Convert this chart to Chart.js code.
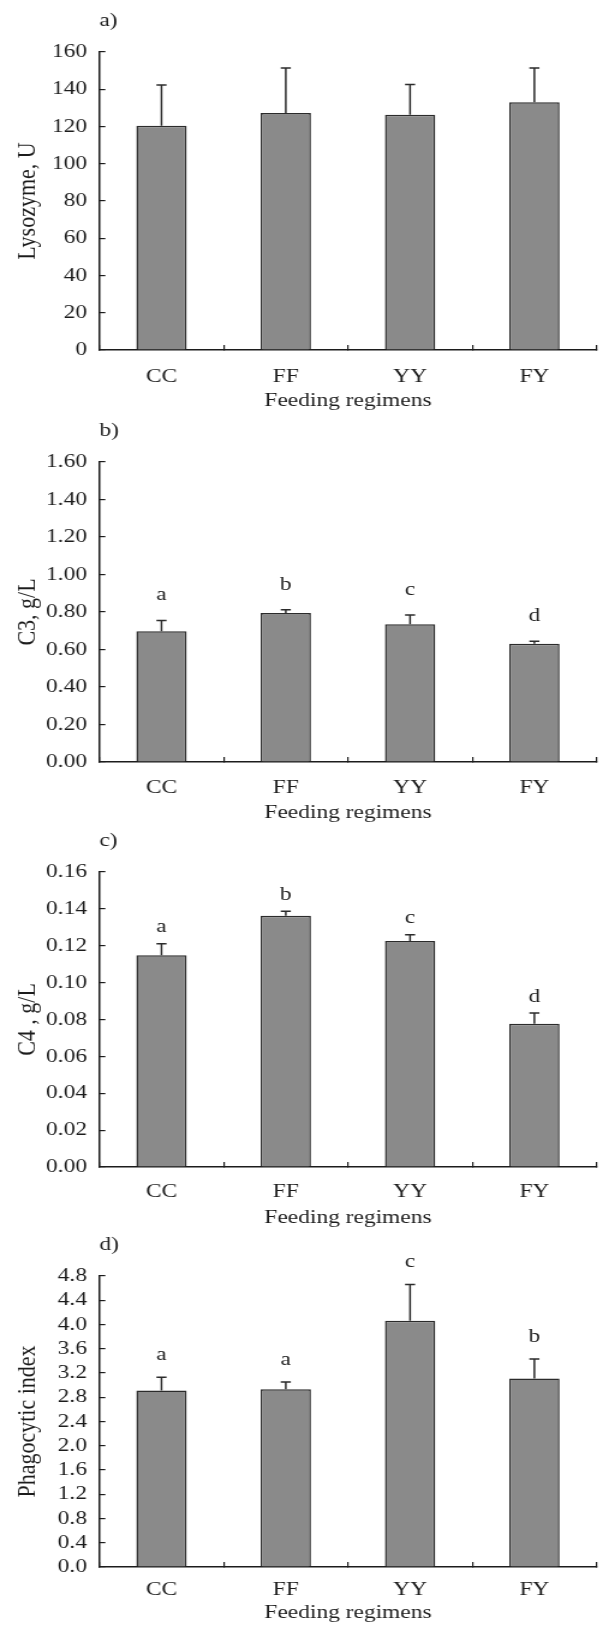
<!DOCTYPE html>
<html>
<head>
<meta charset="utf-8">
<script src="https://cdn.jsdelivr.net/npm/chart.js@4/dist/chart.umd.min.js"></script>
<style>
  body { margin: 0; background: #fff; }
  #wrap { position: relative; width: 603px; height: 1631px; overflow: hidden; }
  #wrap canvas { position: absolute; left: 0; }
</style>
</head>
<body>
<div id="wrap"></div>
<script>
// Feeding regimens on the x axis, shared by all four panels
const regimens = ['CC', 'FF', 'YY', 'FY'];

// a) lysozyme
const lysozyme = [120.4, 127.2, 126.3, 133.0];
const lysozymeSd = [21.9, 24.2, 16.2, 18.4];
const lysozymeTicks = ['0', '20', '40', '60', '80', '100', '120', '140', '160'];

// b) complement C3
const c3 = [0.698, 0.795, 0.735, 0.631];
const c3Sd = [0.057, 0.017, 0.049, 0.013];
const c3Letters = ['a', 'b', 'c', 'd'];
const c3Ticks = ['0.00', '0.20', '0.40', '0.60', '0.80', '1.00', '1.20', '1.40', '1.60'];

// c) complement C4
const c4 = [0.1148, 0.1363, 0.1226, 0.0777];
const c4Sd = [0.0063, 0.0024, 0.0034, 0.0058];
const c4Letters = ['a', 'b', 'c', 'd'];
const c4Ticks = ['0.00', '0.02', '0.04', '0.06', '0.08', '0.10', '0.12', '0.14', '0.16'];

// d) phagocytic index
const phagocytic = [2.91, 2.93, 4.06, 3.11];
const phagocyticSd = [0.22, 0.12, 0.60, 0.32];
const phagocyticLetters = ['a', 'a', 'c', 'b'];
const phagocyticTicks = ['0.0', '0.4', '0.8', '1.2', '1.6', '2.0', '2.4', '2.8', '3.2', '3.6', '4.0', '4.4', '4.8'];

const ink = '#1c1c1c';
const serif = "'Liberation Serif', 'Times New Roman', serif";
const textSize = 19.5;

// canvases are drawn narrower and widened by CSS (wide serif lettering)
const LOGICAL_W = 502;

const panels = [
  { tag: 'a)', yTitle: 'Lysozyme, U', values: lysozyme, sd: lysozymeSd, letters: null,
    ticks: lysozymeTicks, step: 20, top: 0, height: 413, xHeight: 63, labelPad: 20.0, gap: 0 },
  { tag: 'b)', yTitle: 'C3, g/L', values: c3, sd: c3Sd, letters: c3Letters,
    ticks: c3Ticks, step: 0.2, top: 410, height: 415, xHeight: 63, labelPad: 19.6, gap: 20 },
  { tag: 'c)', yTitle: 'C4 , g/L', values: c4, sd: c4Sd, letters: c4Letters,
    ticks: c4Ticks, step: 0.02, top: 820, height: 410, xHeight: 63, labelPad: 18.3, gap: 11.5 },
  { tag: 'd)', yTitle: 'Phagocytic index', values: phagocytic, sd: phagocyticSd, letters: phagocyticLetters,
    ticks: phagocyticTicks, step: 0.4, top: 1224, height: 401, xHeight: 58, labelPad: 16.6, gap: 17.5 }
];

// error bars (upper whisker only), significance letters and panel tag
const annotate = {
  id: 'annotate',
  afterDatasetsDraw(chart, args, opts) {
    const { ctx, chartArea } = chart;
    const xs = chart.scales.x;
    const ys = chart.scales.y;
    ctx.save();
    ctx.strokeStyle = '#2b2b2b';
    ctx.lineWidth = 1.5;
    ctx.font = textSize + 'px ' + serif;
    opts.values.forEach((v, i) => {
      const x = xs.getPixelForValue(i);
      const yTop = ys.getPixelForValue(v + opts.sd[i]);
      const yBar = ys.getPixelForValue(v);
      ctx.beginPath();
      ctx.moveTo(x, yBar);
      ctx.lineTo(x, yTop);
      ctx.moveTo(x - 4.2, yTop);
      ctx.lineTo(x + 4.2, yTop);
      ctx.stroke();
      if (opts.letters) {
        ctx.fillStyle = ink;
        ctx.textAlign = 'center';
        ctx.textBaseline = 'alphabetic';
        ctx.fillText(opts.letters[i], x, yTop - opts.gap);
      }
    });
    ctx.fillStyle = ink;
    ctx.textAlign = 'left';
    ctx.textBaseline = 'middle';
    ctx.fillText(opts.tag, chartArea.left, chartArea.top - 31);
    ctx.restore();
  }
};

const wrap = document.getElementById('wrap');

panels.forEach(p => {
  const canvas = document.createElement('canvas');
  canvas.width = LOGICAL_W;
  canvas.height = p.height;
  canvas.style.top = p.top + 'px';
  canvas.style.width = '603px';
  canvas.style.height = p.height + 'px';
  wrap.appendChild(canvas);

  const maxVal = p.step * (p.ticks.length - 1);

  new Chart(canvas.getContext('2d'), {
    type: 'bar',
    data: {
      labels: regimens,
      datasets: [{
        data: p.values,
        backgroundColor: '#8a8a8a',
        borderColor: '#2b2b2b',
        borderWidth: 1.5,
        borderSkipped: 'bottom',
        barPercentage: 0.405,
        categoryPercentage: 1
      }]
    },
    options: {
      responsive: false,
      animation: false,
      devicePixelRatio: 1,
      layout: { padding: { top: 52, left: 0, right: 5.4, bottom: 0 } },
      plugins: {
        legend: { display: false },
        tooltip: { enabled: false },
        annotate: { values: p.values, sd: p.sd, letters: p.letters, gap: p.gap, tag: p.tag }
      },
      scales: {
        x: {
          grid: { drawOnChartArea: false, drawTicks: true, tickLength: -5, color: ink, lineWidth: 1.2, offset: true },
          border: { display: true, color: ink, width: 1.5 },
          ticks: { color: ink, font: { family: serif, size: textSize }, padding: p.labelPad, maxRotation: 0 },
          title: { display: true, text: 'Feeding regimens', color: ink, font: { family: serif, size: textSize }, padding: 0 },
          afterFit: s => { s.height = p.xHeight; }
        },
        y: {
          min: 0,
          max: maxVal,
          grid: { drawOnChartArea: false, drawTicks: true, tickLength: -5, color: ink, lineWidth: 1.2 },
          border: { display: true, color: ink, width: 1.5 },
          ticks: {
            stepSize: p.step,
            autoSkip: false,
            color: ink,
            font: { family: serif, size: textSize },
            padding: 15.3,
            callback: v => p.ticks[Math.round(v / p.step)]
          },
          title: { display: true, text: p.yTitle, color: ink, font: { family: serif, size: 22 }, padding: { top: 9.7, bottom: 0 } },
          afterFit: s => { s.width = 82.7; }
        }
      }
    },
    plugins: [annotate]
  });
});
</script>
</body>
</html>
